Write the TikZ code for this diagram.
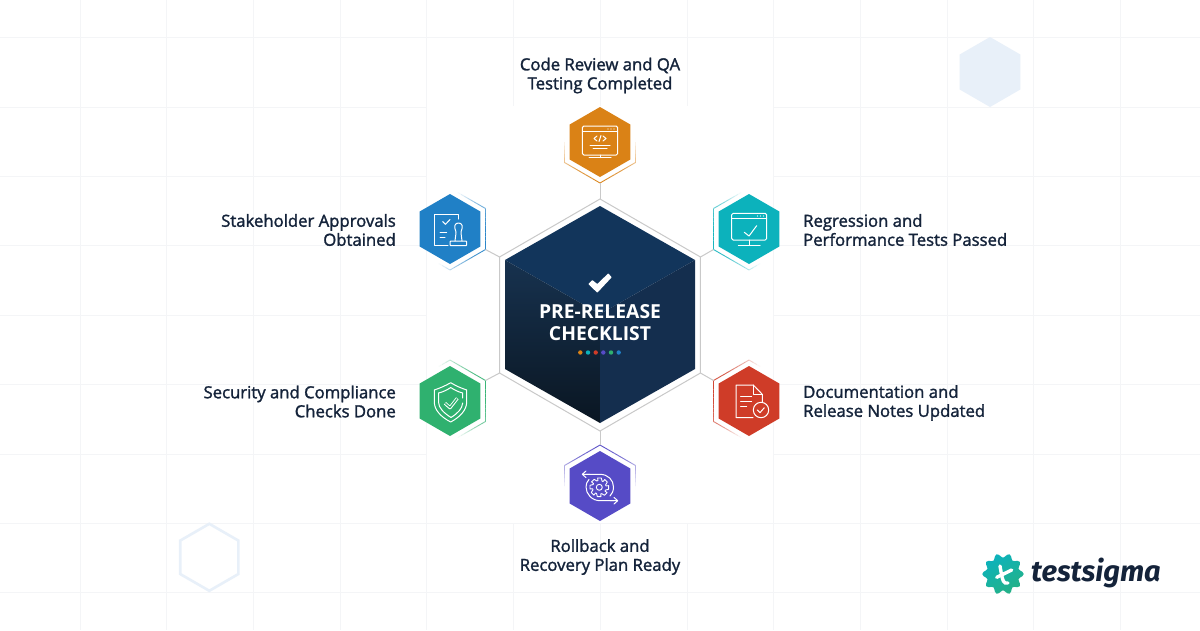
\documentclass[tikz,border=0pt]{standalone}
\usepackage{xcolor}
\usepackage{fontspec}
\setmainfont{Open Sans}
\newfontfamily\labelfont[RawFeature={embolden=1.6}]{Open Sans}
\newfontfamily\titlefont{Open Sans Bold}
\newfontfamily\logofont{Fira Sans Bold Italic}
\usetikzlibrary{calc, shapes.geometric, positioning}

\definecolor{gridcol}{HTML}{F4F5F7}
\definecolor{inkcol}{HTML}{14233A}
\definecolor{ghostcol}{HTML}{E8F0F9}
\definecolor{wirecol}{HTML}{C9C9C9}
\definecolor{orangecol}{HTML}{DA8216}
\definecolor{tealcol}{HTML}{0CB2BC}
\definecolor{redcol}{HTML}{CF3C28}
\definecolor{purplecol}{HTML}{564BC6}
\definecolor{greencol}{HTML}{2FB16F}
\definecolor{bluecol}{HTML}{2080C6}
\definecolor{facetop}{HTML}{12355B}
\definecolor{faceright}{HTML}{142E4E}
\definecolor{faceleft}{HTML}{17324F}
\definecolor{facedark}{HTML}{0A1622}

% faded outline of one outer hexagon: centre, colour, direction it faces
\newcommand{\hexband}[3]{%
    \foreach \ba in {0,6,...,354} {
        \pgfmathsetmacro\bo{max(0,min(1,0.05+0.9*cos(\ba+3-#3)))}
        \pgfmathsetmacro\ra{35.5/cos(mod(\ba+30,60)-30)}
        \pgfmathsetmacro\rb{35.5/cos(mod(\ba+36,60)-30)}
        \draw[#2, opacity=\bo, line width=0.9pt, shift={(#1)}] (\ba:\ra) -- ({\ba+6}:\rb);
    }
}

\tikzset{
    hexshape/.style={regular polygon, regular polygon sides=6, shape border rotate=30, inner sep=0pt, outer sep=0pt},
    hexa/.style={hexshape, minimum size=70pt, fill=#1},
    hexring/.style={hexshape, minimum size=82pt},
    wire/.style={draw=wirecol, line width=1pt},
    icon/.style={draw=white, line width=1pt, line cap=round, line join=round},
    steptext/.style={font=\labelfont\fontsize{16.7}{19}\selectfont, text=inkcol, inner sep=0pt}
}

\begin{document}
\begin{tikzpicture}[x=1pt, y=-1pt, >=stealth]
    \useasboundingbox (0,0) rectangle (1200,630);
    \fill[white] (0,0) rectangle (1200,630);

    % =================================================================
    % 1. BACKGROUND GRID
    % =================================================================
    \foreach \gx in {80,166.5,253,340,426,513,600,687,773,860,947,1033,1120}
        \draw[gridcol, line width=0.8pt] (\gx,0) -- (\gx,630);
    \foreach \gy in {37,107,176,245,315,384,454,523,592}
        \draw[gridcol, line width=0.8pt] (0,\gy) -- (1200,\gy);
    \fill[white] (426.5,106) rectangle (773,522.5);

    % ghost hexagons
    \node[hexshape, minimum size=70pt, fill=ghostcol] (ghostfull) at (990,72) {};
    \node[hexshape, minimum size=67pt, draw=ghostcol, line width=2.6pt] (ghostline) at (209.3,557.3) {};

    % =================================================================
    % 2. CENTRE HEXAGON
    % =================================================================
    \node[hexshape, minimum size=232pt, draw=wirecol, line width=1pt] (frame) at (600,315) {};
    \fill[facetop] (600,206) -- (695,260) -- (600,314) -- (505,260) -- cycle;
    \shade[top color=faceleft, bottom color=facedark] (505,260) -- (600,314) -- (600,423) -- (505,369) -- cycle;
    \fill[faceright] (695,260) -- (600,314) -- (600,423) -- (695,369) -- cycle;

    \fill[white, rounded corners=0.6pt] (588.3,284) -- (592.3,280) -- (597.3,284) -- (608.3,273.3) -- (611.7,277.3) -- (597.3,292.7) -- cycle;
    \node[font=\titlefont\fontsize{19.3}{22}\selectfont, text=white, align=center, inner sep=0pt] (title) at (600,322.5) {PRE-RELEASE\\CHECKLIST};
    \foreach \dx/\dc in {580.3/orangecol, 588/tealcol, 595.7/redcol, 603.3/purplecol, 611/greencol, 618.7/bluecol}
        \fill[\dc] (\dx,352.5) circle (2.2pt);

    % =================================================================
    % 3. SIX OUTER HEXAGONS
    % =================================================================
    \node[hexring] (ringa) at (600,142) {};
    \node[hexring] (ringb) at (749,229) {};
    \node[hexring] (ringc) at (749,401) {};
    \node[hexring] (ringd) at (600,486) {};
    \node[hexring] (ringe) at (450,401) {};
    \node[hexring] (ringf) at (450,229) {};

    \hexband{600,142}{orangecol}{90}
    \hexband{749,229}{tealcol}{165}
    \hexband{749,401}{redcol}{195}
    \hexband{600,486}{purplecol}{-90}
    \hexband{450,401}{greencol}{-15}
    \hexband{450,229}{bluecol}{15}

    \node[hexa=orangecol] (code) at (600,142) {};
    \node[hexa=tealcol] (regress) at (749,229) {};
    \node[hexa=redcol] (docs) at (749,401) {};
    \node[hexa=purplecol] (rollback) at (600,486) {};
    \node[hexa=greencol] (security) at (450,401) {};
    \node[hexa=bluecol] (approval) at (450,229) {};

    % connectors
    \draw[wire] (ringa.corner 4) -- (frame.corner 1);
    \draw[wire] (ringb.corner 3) -- (frame.corner 6);
    \draw[wire] (ringc.corner 2) -- (frame.corner 5);
    \draw[wire] (ringd.corner 1) -- (frame.corner 4);
    \draw[wire] (ringe.corner 6) -- (frame.corner 3);
    \draw[wire] (ringf.corner 5) -- (frame.corner 2);

    % =================================================================
    % 4. ICONS
    % =================================================================
    % code window
    \draw[icon, rounded corners=1.5pt] (582.3,126) rectangle (617.7,155);
    \draw[icon] (582.3,131) -- (617.7,131);
    \foreach \dx in {608,611,614} \fill[white] (\dx,129) circle (0.6pt);
    \draw[icon] (597,136) -- (594,138.5) -- (597,141) (603,136) -- (606,138.5) -- (603,141) (601,135.5) -- (599,141.5);
    \draw[icon] (590,145) -- (610,145) (593,148) -- (607,148);
    \draw[icon] (600,155) -- (600,157.5) (589,157.5) -- (611,157.5);

    % regression window
    \draw[icon, rounded corners=1.5pt] (731.7,213.3) rectangle (766.7,240);
    \draw[icon] (731.7,218.3) -- (766.7,218.3);
    \foreach \dx in {757.5,760.5,763.5} \fill[white] (\dx,216) circle (0.6pt);
    \draw[icon] (744.3,232.3) -- (749,236) -- (756.7,225.7);
    \draw[icon] (749.3,240) -- (749.3,245) (738.3,245) -- (760,245);

    % document with badge
    \draw[icon] (762.3,402) -- (762.3,394.3) -- (753.3,385) -- (736,385) -- (736,417.7) -- (753,417.7);
    \draw[icon] (753.3,385) -- (753.3,394.3) -- (762.3,394.3);
    \draw[icon] (740.7,396.7) -- (751.7,396.7) (740.7,401) -- (751.7,401) (740.7,406) -- (746.7,406);
    \draw[icon] (761,410) circle (7.7pt);
    \draw[icon] (757.3,410) -- (760,412.7) -- (764.3,407.7);

    % gear with arrows
    \draw[icon] (586,474.3) -- (600,474.3) .. controls (608,474.3) and (613.5,480) .. (613.5,487) .. controls (613.5,491) and (612,494) .. (610,496);
    \draw[icon] (582.3,474.3) -- (586,471) (582.3,474.3) -- (586,477.6) (582.3,474.3) -- (590,474.3);
    \draw[icon] (614,500.7) -- (600,500.7) .. controls (592,500.7) and (586,494) .. (586,487) .. controls (586,484) and (587,481.5) .. (589,479.5);
    \draw[icon] (617.7,500.7) -- (614,497.4) (617.7,500.7) -- (614,504) (617.7,500.7) -- (610,500.7);
    \draw[icon, line width=0.9pt] (599.3,487.3) circle (3pt);
    \draw[icon, line width=0.9pt] ($(599.3,487.3)+(10:9.5)$)
        \foreach \ga in {0,45,...,315} { -- ($(599.3,487.3)+({\ga+12}:9.5)$) -- ($(599.3,487.3)+({\ga+24}:6.8)$) -- ($(599.3,487.3)+({\ga+33}:6.8)$) -- ($(599.3,487.3)+({\ga+45-10}:9.5)$) } -- cycle;

    % shield
    \draw[icon] (450.7,382.7) .. controls (445,386) and (440,388) .. (434.3,390) -- (434.3,402) .. controls (434.3,410) and (441,417) .. (450.7,422) .. controls (460,417) and (466.7,410) .. (466.7,402) -- (466.7,390) .. controls (461,388) and (456,386) .. (450.7,382.7) -- cycle;
    \draw[icon] (462.7,403) .. controls (462,409) and (458,413) .. (451,417.5) .. controls (444,413) and (438.5,408) .. (438.5,402) -- (438.5,393) .. controls (443,392) and (447,390) .. (450.7,387.5) .. controls (454.5,390) and (458.5,392) .. (462.7,393) -- (462.7,398);
    \draw[white, line width=3.2pt, line join=round] (445,403.3) -- (450,407.7) -- (457.3,398.3);
    \draw[greencol, line width=1.3pt, line join=round] (445.3,403.5) -- (450,407.5) -- (457,398.6);

    % stamp and page
    \draw[icon] (458.3,219) -- (458.3,214) -- (434.3,214) -- (434.3,245) -- (448,245);
    \draw[icon] (442.7,221.5) -- (445.5,224.3) -- (450,219.5);
    \draw[icon] (440,232.3) -- (446.7,232.3) (440,237.3) -- (445,237.3);
    \draw[icon, rounded corners=0.8pt] (450,241) rectangle (466.7,245.7);
    \draw[icon] (455,241) .. controls (455.5,236) and (456,235) .. (456,232) .. controls (453.5,226) and (455,223) .. (458.5,223) .. controls (462,223) and (463.5,226) .. (461,232) .. controls (461,235) and (461.5,236) .. (462,241);

    % =================================================================
    % 5. LABELS
    % =================================================================
    \node[steptext, align=center] (codetext) at (600,75.5) {Code Review and QA\\Testing Completed};
    \node[steptext, align=left, anchor=west] (regresstext) at (803,230) {Regression and\\Performance Tests Passed};
    \node[steptext, align=left, anchor=west] (docstext) at (803,403) {Documentation and\\Release Notes Updated};
    \node[steptext, align=center] (rollbacktext) at (600,557) {Rollback and\\Recovery Plan Ready};
    \node[steptext, align=right, anchor=east] (securitytext) at (396,401.5) {Security and Compliance\\Checks Done};
    \node[steptext, align=right, anchor=east] (approvaltext) at (396,230) {Stakeholder Approvals\\Obtained};

    % =================================================================
    % 6. LOGO
    % =================================================================
    \begin{scope}[shift={(1003,574)}]
        \shade[left color=tealcol, right color=greencol!70!tealcol, shading angle=30] plot[smooth cycle, samples=60, domain=0:354] (\x:{18.5+2.2*cos(10*\x)});
        \draw[white, line width=3.4pt, line cap=round] (-3,-8) .. controls (-2,-2) and (-1,4) .. (0.3,7) .. controls (1,9) and (3,9.5) .. (5,9);
        \draw[white, line width=3.4pt, line cap=round] (-6.3,3.3) -- (8.7,-4);
    \end{scope}
    \node[font=\logofont\fontsize{29}{29}\selectfont, text=inkcol, inner sep=0pt, anchor=west] (logotext) at (1031,573) {testsigma};
\end{tikzpicture}
\end{document}
